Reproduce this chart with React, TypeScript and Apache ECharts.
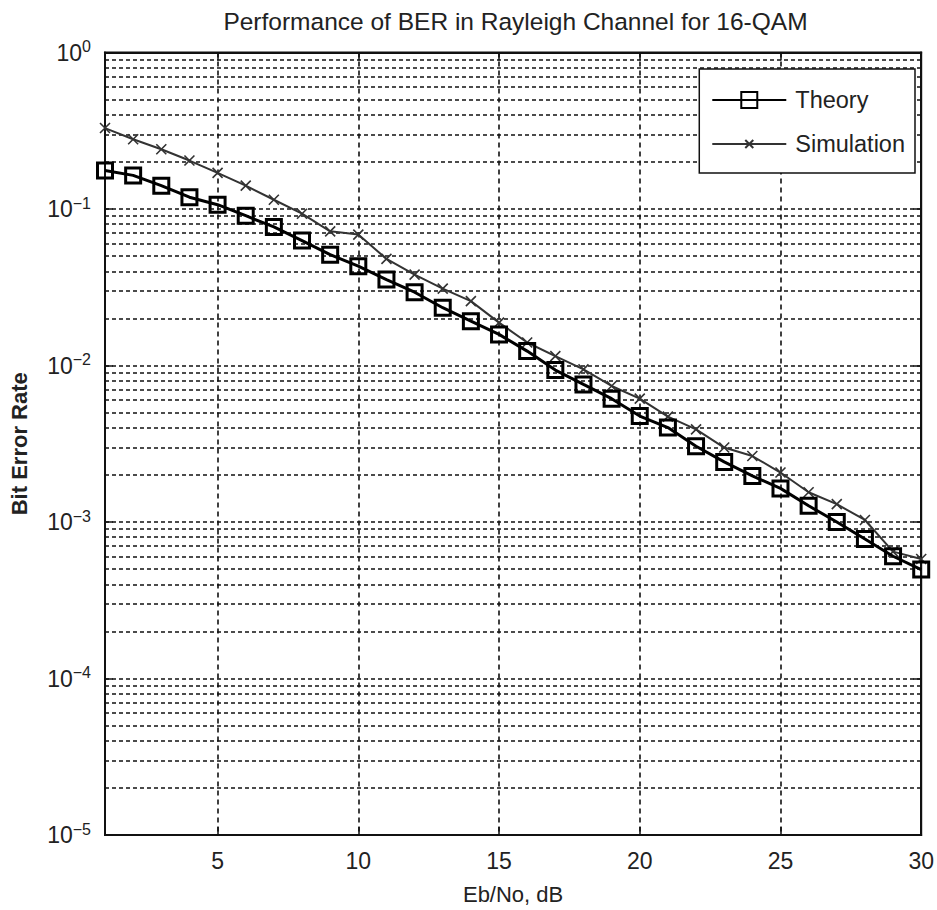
import React, { useEffect, useRef } from 'react';
import * as echarts from 'echarts';

const ebNo = [1, 2, 3, 4, 5, 6, 7, 8, 9, 10, 11, 12, 13, 14, 15, 16, 17, 18, 19, 20, 21, 22, 23, 24, 25, 26, 27, 28, 29, 30];
const theoryBer = [
  0.176, 0.164, 0.141, 0.119, 0.1065, 0.0906, 0.0768, 0.0628, 0.0511, 0.0431,
  0.0354, 0.0294, 0.0234, 0.0192, 0.0158, 0.01236, 0.00935, 0.00757, 0.00614, 0.00475,
  0.00401, 0.00305, 0.00242, 0.00197, 0.00164, 0.00127, 0.001, 0.000778, 0.000604, 0.000497,
];
const simulationBer = [
  0.329, 0.279, 0.241, 0.204, 0.17, 0.141, 0.1146, 0.0933, 0.072, 0.0686,
  0.048, 0.0381, 0.031, 0.0258, 0.0188, 0.01403, 0.01148, 0.00944, 0.0074, 0.00614,
  0.00471, 0.00391, 0.00299, 0.00264, 0.00207, 0.00155, 0.0013, 0.00103, 0.000647, 0.00058,
];
const xTickValues = [5, 10, 15, 20, 25, 30];
const yDecades = [1e-5, 1e-4, 1e-3, 1e-2, 1e-1];
const minorMultipliers = [2, 3, 4, 5, 6, 7, 8, 9];
const seriesNames = ['Theory', 'Simulation'];
const titleText = 'Performance of BER in Rayleigh Channel for 16-QAM';
const xAxisName = 'Eb/No, dB';
const yAxisName = 'Bit Error Rate';

const FONT = '"Liberation Sans", Arial, Helvetica, sans-serif';
const X_MARK = 'path://M0,0M14,14M3.5,3.5L10.5,10.5M10.5,3.5L3.5,10.5';

export default function App() {
  const ref = useRef<HTMLDivElement>(null);

  useEffect(() => {
    if (!ref.current) return;
    const chart = echarts.init(ref.current, undefined, { renderer: 'svg' });
    const minorValues: number[] = [];
    yDecades.forEach((d) => minorMultipliers.forEach((m) => minorValues.push(m * d)));

    const gridDash = { type: [4, 3] as any, color: '#111', width: 1.6 };

    chart.setOption({
      animation: false,
      backgroundColor: '#fff',
      textStyle: { fontFamily: FONT },
      graphic: [
        {
          type: 'text',
          x: 515.5,
          y: 21,
          style: {
            text: titleText,
            font: `24.5px ${FONT}`,
            fill: '#222',
            align: 'center',
            verticalAlign: 'middle',
          },
        },
      ],
      grid: {
        left: 104,
        right: 10,
        top: 52.5,
        bottom: 73.5,
        show: true,
        borderColor: '#111',
        borderWidth: 2,
        backgroundColor: 'transparent',
      },
      legend: {
        orient: 'vertical',
        right: 22,
        top: 69,
        z: 10,
        data: seriesNames,
        itemWidth: 74,
        itemHeight: 20,
        itemGap: 20,
        padding: [19, 10, 17, 12],
        backgroundColor: '#fff',
        borderColor: '#111',
        borderWidth: 1.5,
        selectedMode: false,
        textStyle: { fontSize: 23.5, color: '#222', lineHeight: 20, padding: [0, 0, 0, 4], fontFamily: FONT },
      },
      xAxis: [
        {
          type: 'value',
          min: 1,
          max: 30,
          name: xAxisName,
          nameLocation: 'middle',
          nameGap: 48,
          nameTextStyle: { fontSize: 22, color: '#222', fontFamily: FONT },
          axisLine: { show: true, lineStyle: { color: '#111', width: 2 } },
          axisTick: { show: true, inside: true, length: 8, customValues: xTickValues, lineStyle: { color: '#111', width: 1.5 } },
          axisLabel: { customValues: xTickValues, fontSize: 23, color: '#222', margin: 14, fontFamily: FONT },
          splitLine: { show: true, lineStyle: { type: [5, 4], color: '#111', width: 1.6 } },
        },
        {
          type: 'value',
          position: 'top',
          min: 1,
          max: 30,
          axisLine: { show: true, lineStyle: { color: '#111', width: 2 } },
          axisTick: { show: true, inside: true, length: 8, customValues: xTickValues, lineStyle: { color: '#111', width: 1.5 } },
          axisLabel: { show: false },
          splitLine: { show: false },
        },
      ],
      yAxis: [
        {
          type: 'log',
          logBase: 10,
          min: 1e-5,
          max: 1,
          name: yAxisName,
          nameLocation: 'middle',
          nameGap: 75,
          nameTextStyle: { fontSize: 22, fontWeight: 'bold', color: '#222', fontFamily: FONT },
          axisLine: { show: true, lineStyle: { color: '#111', width: 2 } },
          axisTick: { show: true, inside: true, length: 8, lineStyle: { color: '#111', width: 1.5 } },
          axisLabel: {
            margin: 14,
            color: '#222',
            formatter: (v: number) => {
              const e = Math.round(Math.log10(v));
              const s = e === 0 ? '0' : '\u2212' + Math.abs(e);
              return `{b|10}{s|${s}}`;
            },
            rich: {
              b: { fontSize: 23, lineHeight: 28, color: '#222', fontFamily: FONT },
              s: { fontSize: 16, lineHeight: 16, verticalAlign: 'top', color: '#222', fontFamily: FONT },
            },
          },
          splitLine: { show: true, lineStyle: gridDash },
        },
        {
          type: 'log',
          logBase: 10,
          min: 1e-5,
          max: 1,
          position: 'right',
          axisLine: { show: true, lineStyle: { color: '#111', width: 2 } },
          axisTick: { show: true, inside: true, length: 8, lineStyle: { color: '#111', width: 1.5 } },
          axisLabel: { show: false },
          splitLine: { show: false },
        },
      ],
      series: [
        {
          name: '_grid',
          type: 'line',
          data: ebNo.map((x, i) => [x, theoryBer[i]]),
          symbol: 'none',
          lineStyle: { opacity: 0 },
          silent: true,
          z: 1,
          markLine: {
            silent: true,
            z: 1,
            precision: 10,
            symbol: ['none', 'none'],
            label: { show: false },
            lineStyle: gridDash,
            data: minorValues.map((v) => [{ coord: [1, v] }, { coord: [30, v] }]),
          },
        },
        {
          name: 'Simulation',
          type: 'line',
          data: ebNo.map((x, i) => [x, simulationBer[i]]),
          symbol: X_MARK,
          symbolSize: 20,
          color: '#333',
          lineStyle: { color: '#333', width: 2 },
          itemStyle: { color: '#333', borderColor: '#333', borderWidth: 1.6 },
          z: 3,
        },
        {
          name: 'Theory',
          type: 'line',
          data: ebNo.map((x, i) => [x, theoryBer[i]]),
          symbol: 'rect',
          symbolSize: 15,
          color: '#000',
          lineStyle: { color: '#000', width: 3 },
          itemStyle: { color: 'rgba(0,0,0,0)', borderColor: '#000', borderWidth: 3 },
          z: 4,
        },
      ],
    });
    return () => chart.dispose();
  }, []);

  return <div ref={ref} style={{ position: 'absolute', left: 0, top: 0, width: 937, height: 910 }} />;
}
